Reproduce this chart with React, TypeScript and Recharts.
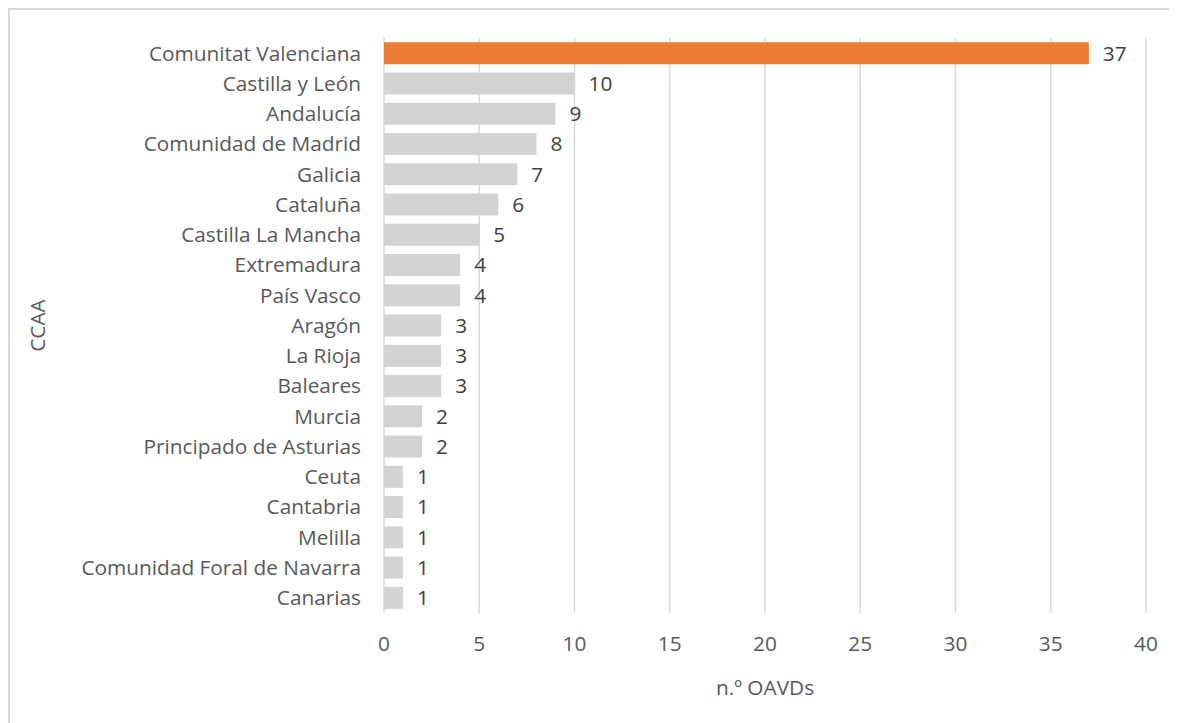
import React from "react";
import { BarChart, Bar, XAxis, YAxis, CartesianGrid, LabelList, Cell } from "recharts";

const categories = [
  "Comunitat Valenciana",
  "Castilla y León",
  "Andalucía",
  "Comunidad de Madrid",
  "Galicia",
  "Cataluña",
  "Castilla La Mancha",
  "Extremadura",
  "País Vasco",
  "Aragón",
  "La Rioja",
  "Baleares",
  "Murcia",
  "Principado de Asturias",
  "Ceuta",
  "Cantabria",
  "Melilla",
  "Comunidad Foral de Navarra",
  "Canarias",
];
const values = [37, 10, 9, 8, 7, 6, 5, 4, 4, 3, 3, 3, 2, 2, 1, 1, 1, 1, 1];
const xTicks = [0, 5, 10, 15, 20, 25, 30, 35, 40];
const highlight = "Comunitat Valenciana";

const data = categories.map((c, i) => ({ name: c, value: values[i] }));

const FONT = "'Open Sans', sans-serif";
const FS = 20.8;

export default function App() {
  return (
    <div
      style={{
        width: 1169,
        height: 715,
        borderTop: "2px solid #d9d9d9",
        borderLeft: "2px solid #d9d9d9",
        boxSizing: "border-box",
        overflow: "hidden",
        fontFamily: FONT,
      }}
    >
      <BarChart
        width={1167}
        height={713}
        data={data}
        layout="vertical"
        margin={{ top: 28, right: 31, left: 0, bottom: 20 }}
        barCategoryGap="13.7%"
      >
        <CartesianGrid horizontal={false} vertical={true} stroke="#d9d9d9" strokeWidth={1.5} />
        <XAxis
          type="number"
          domain={[0, 40]}
          ticks={xTicks}
          axisLine={false}
          tickLine={false}
          tickSize={0}
          tickMargin={23}
          height={90}
          interval={0}
          tick={{ fill: "#595959", fontSize: FS, fontFamily: FONT }}
          label={{
            value: "n.º OAVDs",
            position: "insideBottom",
            offset: 8,
            fill: "#595959",
            fontSize: FS,
            fontFamily: FONT,
          }}
        />
        <YAxis
          type="category"
          dataKey="name"
          width={374}
          axisLine={false}
          tickLine={false}
          tickSize={0}
          tickMargin={23}
          interval={0}
          tick={{ fill: "#595959", fontSize: FS, fontFamily: FONT }}
          label={{
            value: "CCAA",
            angle: -90,
            position: "insideLeft",
            offset: 28,
            fill: "#595959",
            fontSize: FS,
            fontFamily: FONT,
            style: { textAnchor: "middle" },
          }}
        />
        <Bar dataKey="value" isAnimationActive={false}>
          {data.map((d) => (
            <Cell key={d.name} fill={d.name === highlight ? "#ED7D31" : "#D3D3D3"} />
          ))}
          <LabelList
            dataKey="value"
            position="right"
            offset={14}
            fill="#404040"
            fontSize={FS}
            fontFamily={FONT}
          />
        </Bar>
      </BarChart>
    </div>
  );
}
